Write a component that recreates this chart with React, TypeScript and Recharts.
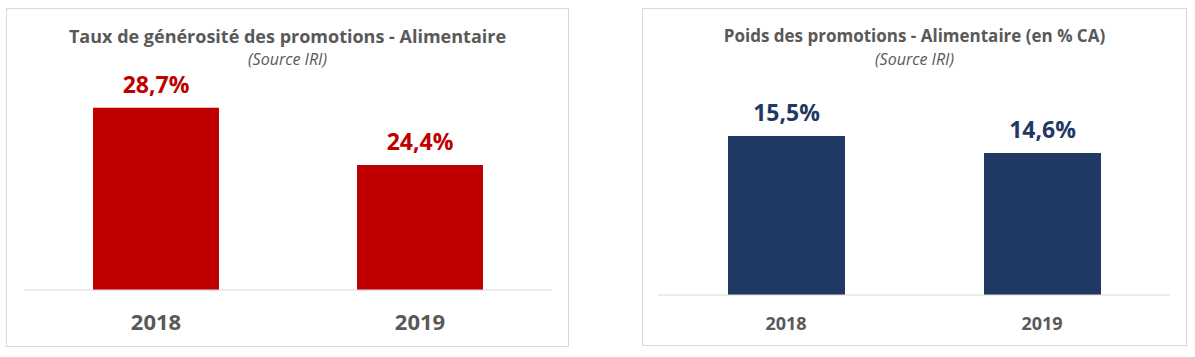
import { Bar, BarChart, LabelList, XAxis, YAxis } from "recharts";

const categories: string[] = ["2018", "2019"];
const generositeValues: number[] = [28.7, 24.4];
const poidsValues: number[] = [15.5, 14.6];

const FONT = "'Open Sans', sans-serif";
const GREY = "#595959";

const fmt = (v: any) => `${String(v).replace(".", ",")}%`;

interface PanelProps {
  box: { left: number; top: number; width: number; height: number };
  title: string;
  titleSize: number;
  values: number[];
  color: string;
  labelColor: string;
  domain: [number, number];
  chart: { left: number; top: number; width: number; height: number; marginTop: number; axisHeight: number };
  barSize: number;
  tickSize: number;
  tickDy: number;
}

const Panel = (p: PanelProps) => {
  const data = categories.map((c, i) => ({ year: c, value: p.values[i] }));
  const renderTick = (props: any) => (
    <text
      x={props.x}
      y={props.y}
      dy={p.tickDy}
      textAnchor="middle"
      fill={GREY}
      fontSize={p.tickSize}
      fontWeight={700}
      fontFamily={FONT}
    >
      {props.payload.value}
    </text>
  );
  return (
    <>
      <div
        style={{
          position: "absolute",
          left: p.box.left,
          top: p.box.top,
          width: p.box.width - 2,
          height: p.box.height - 2,
          border: "1px solid #d9d9d9",
        }}
      />
      <div
        style={{
          position: "absolute",
          left: p.box.left,
          width: p.box.width,
          top: 26,
          lineHeight: "20px",
          textAlign: "center",
          fontFamily: FONT,
          fontWeight: 700,
          fontSize: p.titleSize,
          color: GREY,
        }}
      >
        {p.title}
      </div>
      <div
        style={{
          position: "absolute",
          left: p.box.left,
          width: p.box.width,
          top: 49,
          lineHeight: "20px",
          textAlign: "center",
          fontFamily: FONT,
          fontStyle: "italic",
          fontSize: 16,
          color: GREY,
        }}
      >
        (Source IRI)
      </div>
      <div style={{ position: "absolute", left: p.chart.left, top: p.chart.top }}>
        <BarChart
          width={p.chart.width}
          height={p.chart.height}
          data={data}
          margin={{ top: p.chart.marginTop, right: 0, left: 0, bottom: 0 }}
        >
          <YAxis hide domain={p.domain} />
          <XAxis
            dataKey="year"
            height={p.chart.axisHeight}
            axisLine={{ stroke: "#d9d9d9" }}
            tickLine={false}
            tickSize={0}
            tickMargin={0}
            tick={renderTick}
          />
          <Bar dataKey="value" fill={p.color} barSize={p.barSize} isAnimationActive={false}>
            <LabelList
              dataKey="value"
              position="top"
              offset={15}
              formatter={fmt}
              fill={p.labelColor}
              fontSize={23}
              fontWeight={700}
              fontFamily={FONT}
            />
          </Bar>
        </BarChart>
      </div>
    </>
  );
};

export default function App() {
  return (
    <div
      style={{
        position: "absolute",
        left: 0,
        top: 0,
        width: 1195,
        height: 357,
        background: "#fff",
      }}
    >
      <Panel
        box={{ left: 6, top: 8, width: 563, height: 339 }}
        title="Taux de générosité des promotions - Alimentaire"
        titleSize={18}
        values={generositeValues}
        color="#C00000"
        labelColor="#C00000"
        domain={[15, 30]}
        chart={{ left: 24, top: 60, width: 528, height: 280, marginTop: 30.4, axisHeight: 50 }}
        barSize={126}
        tickSize={22}
        tickDy={40}
      />
      <Panel
        box={{ left: 642, top: 8, width: 545, height: 338 }}
        title="Poids des promotions - Alimentaire (en % CA)"
        titleSize={17}
        values={poidsValues}
        color="#1F3864"
        labelColor="#1F3864"
        domain={[7, 17]}
        chart={{ left: 658, top: 60, width: 512, height: 280, marginTop: 48, axisHeight: 45 }}
        barSize={117}
        tickSize={18}
        tickDy={35}
      />
    </div>
  );
}
